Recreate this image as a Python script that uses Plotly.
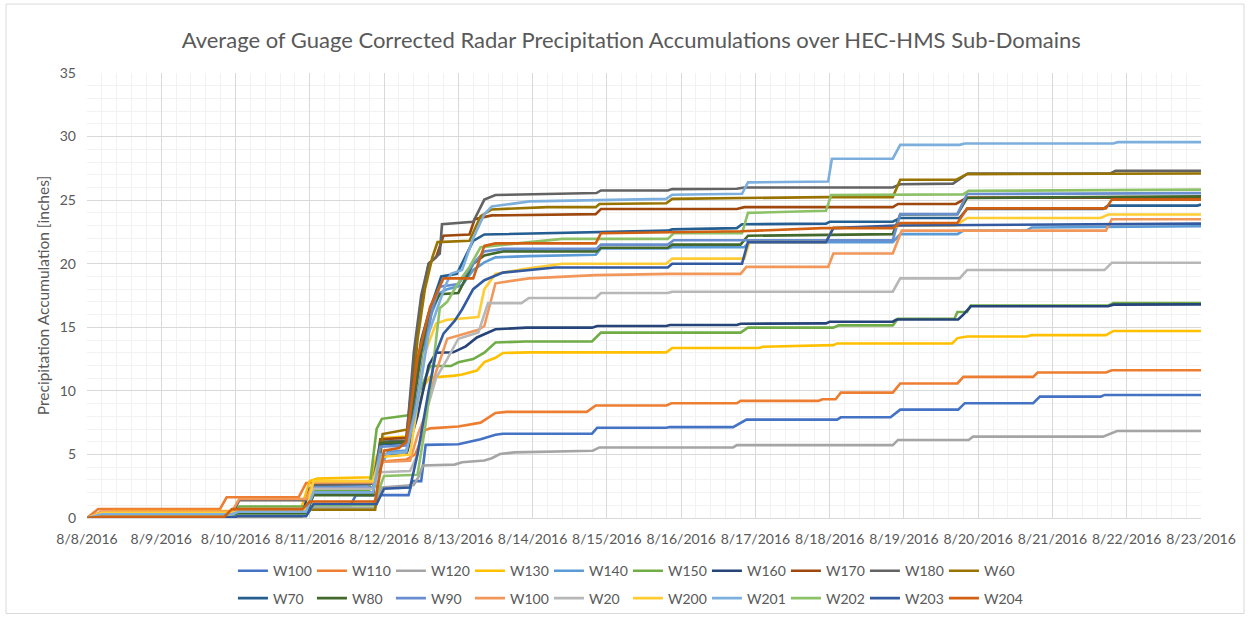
import pandas as pd
import plotly.graph_objects as go

TITLE = "Average of Guage Corrected Radar Precipitation Accumulations over HEC-HMS Sub-Domains"
Y_TITLE = "Precipitation Accumulation [inches]"
START = "2016-08-08"
END = "2016-08-23"
FONT = "Lato"
TEXT_COLOR = "#595959"

series_names = ["W100", "W110", "W120", "W130", "W140", "W150", "W160", "W170", "W180", "W60",
                "W70", "W80", "W90", "W100", "W20", "W200", "W201", "W202", "W203", "W204"]
series_colors = ["#4472C4", "#ED7D31", "#A5A5A5", "#FFC000", "#5B9BD5", "#70AD47", "#264478",
                 "#9E480E", "#636363", "#997300", "#255E91", "#43682B", "#698ED0", "#F1975A",
                 "#B7B7B7", "#FFCD33", "#7CAFDD", "#8CC168", "#335AA1", "#D26012"]

# Breakpoints of each accumulation curve: time in days after 8/8/2016 00:00, depth in inches
w100_t = [0, 0.1, 0.2, 1.95, 2.05, 2.95, 3.05, 3.55, 3.62, 4.33, 4.38, 4.5, 4.56, 5.0, 5.3, 5.5, 5.6,
          6.8, 6.87, 7.8, 7.85, 8.7, 8.88, 10.1, 10.15, 10.82, 10.95, 11.73, 11.82, 12.74, 12.83,
          13.65, 13.7, 15.0]
w100_v = [0, 0.05, 0.1, 0.1, 0.2, 0.2, 1.0, 1.0, 1.8, 1.8, 2.9, 2.9, 5.75, 5.8, 6.2, 6.55, 6.63,
          6.63, 7.1, 7.1, 7.15, 7.15, 7.74, 7.74, 7.92, 7.92, 8.52, 8.52, 9.03, 9.03, 9.55,
          9.55, 9.68, 9.68]

w110_t = [0, 0.08, 0.15, 1.79, 1.88, 2.85, 2.95, 3.8, 3.9, 4.3, 4.42, 4.55, 4.62, 5.0, 5.3, 5.5,
          5.65, 6.73, 6.85, 7.8, 7.87, 8.75, 8.8, 9.85, 9.9, 10.08, 10.15, 10.85, 10.95, 11.72,
          11.8, 12.74, 12.8, 13.72, 13.8, 15.0]
w110_v = [0, 0.4, 0.7, 0.7, 1.63, 1.63, 2.75, 2.8, 4.4, 4.6, 5.0, 6.9, 7.05, 7.2, 7.5, 8.26,
          8.35, 8.35, 8.85, 8.85, 9.02, 9.02, 9.21, 9.21, 9.34, 9.34, 9.86, 9.86, 10.58, 10.58,
          11.1, 11.1, 11.44, 11.44, 11.62, 11.62]

w120_t = [0, 0.15, 0.25, 1.95, 2.05, 2.92, 3.02, 3.88, 3.97, 4.4, 4.47, 4.52, 4.95, 5.05, 5.35,
          5.45, 5.56, 5.75, 6.46, 6.81, 6.9, 8.7, 8.75, 10.85, 10.92, 11.87, 11.93, 13.68, 13.87,
          15.0]
w120_v = [0, 0.05, 0.1, 0.1, 0.25, 0.25, 0.8, 0.8, 2.4, 2.6, 3.3, 4.13, 4.2, 4.39, 4.52,
          4.7, 5.03, 5.16, 5.22, 5.29, 5.55, 5.55, 5.73, 5.73, 6.14, 6.14, 6.4, 6.4, 6.84,
          6.84]

w130_t = [0, 0.25, 0.35, 2.0, 2.08, 2.88, 3.0, 3.1, 3.82, 3.9, 4.0, 4.3, 4.45, 4.55, 4.62, 4.75,
          4.95, 5.05, 5.25, 5.35, 5.5, 5.6, 5.95, 7.8, 7.88, 9.05, 9.1, 9.96, 10.05, 10.1, 11.65,
          11.72, 11.85, 12.65, 12.72, 13.72, 13.82, 15.0]
w130_v = [0, 0.3, 0.55, 0.55, 0.7, 0.7, 2.9, 3.1, 3.2, 4.8, 6.3, 6.4, 8.5, 10.5, 11.1, 11.1,
          11.2, 11.28, 11.6, 12.26, 12.6, 12.98, 13.03, 13.03, 13.37, 13.37, 13.47, 13.55, 13.6,
          13.73, 13.73, 14.15, 14.28, 14.28, 14.38, 14.38, 14.71, 14.71]

w140_t = [0, 0.1, 0.2, 1.95, 2.05, 2.95, 3.05, 3.8, 3.9, 4.05, 4.3, 4.45, 4.6, 4.75, 4.85, 5.05,
          5.2, 5.35, 5.5, 5.95, 6.85, 6.92, 7.82, 7.88, 8.85, 8.92, 10.85, 10.95, 11.72, 11.8,
          12.65, 12.72, 15.0]
w140_v = [0, 0.15, 0.3, 0.3, 0.5, 0.5, 2.5, 2.6, 3.4, 5.2, 5.3, 9.5, 15.5, 17.7, 18.0, 18.3,
          19.5, 20.1, 20.5, 20.6, 20.7, 21.2, 21.2, 21.3, 21.3, 21.7, 21.7, 22.33, 22.33, 22.6,
          22.6, 22.85, 22.95]

w150_t = [0, 0.12, 0.22, 1.95, 2.05, 2.95, 3.05, 3.8, 3.9, 3.97, 4.35, 4.45, 4.55, 4.62, 4.9,
          5.0, 5.2, 5.35, 5.5, 5.9, 6.8, 6.92, 8.8, 8.9, 10.05, 10.12, 10.85, 10.92, 11.68,
          11.72, 11.85, 11.9, 13.75, 13.82, 15.0]
w150_v = [0, 0.1, 0.2, 0.2, 0.9, 0.9, 2.2, 2.2, 7.0, 7.8, 8.1, 9.5, 11.0, 11.95, 11.95,
          12.25, 12.5, 13.0, 13.8, 13.88, 13.88, 14.58, 14.58, 14.97, 14.97, 15.15, 15.15, 15.67,
          15.67, 16.2, 16.2, 16.7, 16.7, 16.9, 16.9]

w160_t = [0, 0.1, 0.2, 1.95, 2.05, 2.9, 3.0, 3.85, 3.95, 4.3, 4.45, 4.6, 4.7, 4.93, 5.1, 5.25,
          5.5, 5.92, 6.8, 6.87, 7.8, 7.85, 8.75, 8.8, 9.95, 10.0, 10.85, 10.9, 11.73, 11.8, 11.9,
          13.75, 13.82, 15.0]
w160_v = [0, 0.05, 0.1, 0.1, 0.3, 0.3, 2.3, 2.3, 4.9, 5.0, 8.0, 12.0, 13.0, 13.03, 13.5, 14.2,
          14.84, 14.97, 14.97, 15.1, 15.1, 15.18, 15.18, 15.28, 15.31, 15.44, 15.44, 15.61, 15.61,
          16.0, 16.65, 16.65, 16.78, 16.8]

w170_t = [0, 0.1, 0.2, 1.95, 2.05, 2.95, 3.05, 3.85, 3.95, 4.3, 4.4, 4.5, 4.6, 4.7, 4.8, 5.15,
          5.22, 5.45, 6.85, 6.92, 8.75, 8.85, 10.85, 10.92, 11.7, 11.85, 15.0]
w170_v = [0, 0.08, 0.15, 0.15, 0.3, 0.3, 1.9, 1.9, 6.2, 6.3, 12.0, 17.0, 20.0, 20.5, 22.2,
          22.3, 23.5, 23.8, 23.9, 24.3, 24.3, 24.45, 24.45, 24.7, 24.7, 25.2, 25.2]

w180_t = [0, 0.1, 0.2, 1.95, 2.05, 2.95, 3.05, 3.85, 3.95, 4.3, 4.4, 4.5, 4.6, 4.75, 4.78, 5.2,
          5.35, 5.5, 6.86, 6.92, 7.82, 7.88, 8.75, 8.85, 10.85, 10.95, 11.66, 11.86, 13.78,
          13.85, 15.0]
w180_v = [0, 0.1, 0.2, 0.2, 1.4, 1.4, 2.6, 2.7, 6.0, 6.1, 13.0, 17.5, 20.0, 20.8, 23.1, 23.3,
          25.04, 25.4, 25.56, 25.76, 25.76, 25.87, 25.9, 26.0, 26.0, 26.25, 26.3, 27.1, 27.1,
          27.3, 27.3]

w60_t = [0, 0.12, 0.25, 2.9, 3.0, 3.88, 3.98, 4.35, 4.45, 4.55, 4.65, 4.72, 5.15, 5.3, 5.45,
         6.2, 6.85, 6.9, 7.8, 7.88, 9.95, 10.85, 10.95, 11.7, 11.85, 15.0]
w60_v = [0, 0.05, 0.15, 0.15, 0.65, 0.65, 6.6, 7.0, 14.0, 18.0, 20.5, 21.7, 21.8, 23.75,
         24.27, 24.45, 24.45, 24.7, 24.75, 25.1, 25.24, 25.24, 26.6, 26.6, 27.05, 27.1]

w70_t = [0, 0.1, 0.2, 1.95, 2.05, 2.95, 3.05, 3.85, 3.95, 4.3, 4.4, 4.5, 4.6, 4.77, 4.98, 5.2,
         5.35, 6.44, 7.82, 7.88, 8.75, 8.82, 9.95, 10.0, 10.85, 10.95, 11.75, 11.85, 13.68,
         13.75, 14.95, 15.0]
w70_v = [0, 0.1, 0.2, 0.2, 0.4, 0.4, 2.0, 2.0, 5.8, 5.9, 10.0, 14.0, 16.1, 19.0, 19.2, 21.8,
         22.3, 22.45, 22.6, 22.7, 22.8, 23.1, 23.15, 23.3, 23.3, 23.6, 23.6, 24.3, 24.3, 24.57,
         24.57, 24.65]

w80_t = [0, 0.1, 0.2, 1.95, 2.05, 2.95, 3.05, 3.85, 3.95, 4.3, 4.4, 4.5, 4.6, 4.75, 5.0, 5.2,
         5.35, 5.6, 6.86, 6.92, 7.82, 7.88, 8.8, 8.9, 10.85, 10.95, 11.72, 11.85, 15.0]
w80_v = [0, 0.05, 0.1, 0.1, 0.3, 0.3, 1.8, 1.8, 5.9, 6.0, 9.0, 13.0, 16.0, 17.6, 17.7, 20.0,
         20.65, 20.97, 20.97, 21.25, 21.25, 21.5, 21.5, 22.2, 22.33, 23.88, 23.9, 25.17, 25.3]

w90_t = [0, 0.1, 0.2, 1.95, 2.05, 2.95, 3.05, 3.85, 3.95, 4.3, 4.4, 4.55, 4.65, 4.75, 5.0, 5.2,
         5.35, 5.6, 6.86, 6.92, 7.82, 7.9, 10.85, 10.95, 11.72, 11.85, 15.0]
w90_v = [0, 0.15, 0.3, 0.3, 0.6, 0.6, 2.4, 2.4, 5.6, 5.7, 8.0, 13.0, 16.5, 18.2, 18.4, 20.0,
         20.97, 21.17, 21.17, 21.5, 21.5, 21.85, 21.85, 23.9, 23.9, 25.48, 25.55]

w100b_t = [0, 0.1, 0.2, 1.95, 2.05, 2.95, 3.05, 3.85, 3.95, 4.35, 4.45, 4.55, 4.7, 4.85, 5.27,
           5.35, 5.5, 5.95, 6.85, 7.85, 8.8, 8.88, 9.98, 10.05, 10.85, 10.97, 13.72, 13.8, 15.0]
w100b_v = [0, 0.25, 0.5, 0.5, 1.5, 1.5, 2.8, 2.8, 4.4, 4.5, 6.5, 8.0, 11.5, 14.1, 14.8, 15.1,
           18.46, 18.85, 19.1, 19.2, 19.2, 19.75, 19.75, 20.8, 20.8, 22.6, 22.6, 23.5, 23.5]

w20_t = [0, 0.1, 0.2, 1.95, 2.05, 2.95, 3.05, 3.85, 3.95, 4.35, 4.45, 4.55, 4.7, 4.85, 5.0,
         5.27, 5.4, 5.85, 5.95, 6.85, 6.92, 7.82, 7.88, 10.85, 10.95, 11.75, 11.85, 13.7, 13.8,
         15.0]
w20_v = [0, 0.1, 0.2, 0.2, 0.7, 0.7, 2.3, 2.3, 3.6, 3.7, 5.0, 8.0, 11.0, 12.5, 14.1, 14.6,
         16.9, 16.9, 17.3, 17.3, 17.7, 17.7, 17.8, 17.8, 18.85, 18.85, 19.5, 19.5, 20.08, 20.08]

w200_t = [0, 0.1, 0.2, 1.95, 2.05, 2.95, 3.05, 3.85, 3.95, 4.35, 4.45, 4.55, 4.7, 4.85, 5.27,
          5.35, 5.5, 5.9, 6.4, 7.8, 7.88, 8.85, 8.92, 9.95, 10.05, 10.85, 10.95, 11.7, 11.85,
          13.65, 13.75, 15.0]
w200_v = [0, 0.2, 0.4, 0.4, 0.6, 0.6, 2.9, 2.9, 4.8, 5.0, 9.0, 13.0, 15.3, 15.6, 15.8, 18.0,
          19.2, 19.6, 20.0, 20.0, 20.4, 20.4, 21.7, 21.7, 22.85, 22.85, 23.0, 23.0, 23.6, 23.6,
          23.87, 23.87]

w201_t = [0, 0.1, 0.2, 1.95, 2.05, 2.95, 3.05, 3.85, 3.95, 4.3, 4.45, 4.6, 4.82, 4.9, 5.05,
          5.2, 5.35, 5.45, 5.96, 7.8, 7.88, 8.82, 8.9, 9.98, 10.03, 10.85, 10.95, 11.75, 11.82,
          13.82, 13.88, 15.0]
w201_v = [0, 0.15, 0.3, 0.3, 0.5, 0.5, 2.0, 2.0, 5.0, 5.2, 9.0, 14.5, 18.2, 19.2, 19.5, 22.0,
          23.9, 24.5, 24.9, 25.1, 25.43, 25.5, 26.4, 26.46, 28.26, 28.26, 29.35, 29.35, 29.45,
          29.45, 29.56, 29.56]

w202_t = [0, 0.1, 0.2, 1.95, 2.05, 2.95, 3.05, 3.85, 3.95, 4.0, 4.45, 4.55, 4.65, 4.75, 4.85,
          5.0, 5.15, 5.3, 5.96, 6.4, 7.82, 7.9, 8.82, 8.9, 9.95, 10.02, 11.8, 11.87, 15.0]
w202_v = [0, 0.05, 0.1, 0.1, 0.2, 0.2, 1.0, 1.0, 2.5, 3.3, 3.4, 7.0, 11.5, 16.5, 17.0, 18.5,
          19.75, 21.3, 21.7, 21.95, 21.95, 22.4, 22.4, 24.0, 24.16, 25.4, 25.45, 25.73, 25.83]

w203_t = [0, 0.12, 0.25, 1.95, 2.05, 2.95, 3.05, 3.9, 4.0, 4.35, 4.45, 4.6, 4.7, 4.8, 4.95,
          5.05, 5.2, 5.35, 5.6, 6.3, 7.82, 7.88, 8.82, 8.9, 9.95, 10.05, 10.9, 15.0]
w203_v = [0, 0.03, 0.05, 0.05, 0.15, 0.15, 1.1, 1.1, 2.3, 2.4, 5.0, 10.0, 13.0, 14.5, 15.5,
          16.4, 18.0, 18.7, 19.3, 19.7, 19.7, 20.0, 20.0, 21.7, 21.7, 22.8, 23.0, 23.15]

w204_t = [0, 0.1, 0.2, 1.85, 1.95, 2.9, 3.0, 3.88, 4.0, 4.2, 4.3, 4.45, 4.62, 4.8, 5.2, 5.35,
          5.5, 6.85, 6.92, 8.8, 9.9, 10.85, 10.95, 11.72, 11.85, 13.72, 13.8, 15.0]
w204_v = [0, 0.05, 0.1, 0.1, 0.7, 0.7, 1.3, 1.3, 5.3, 5.5, 6.0, 12.5, 16.6, 18.85, 18.85,
          21.4, 21.6, 21.6, 22.4, 22.55, 22.8, 22.8, 23.2, 23.2, 24.35, 24.35, 25.04, 25.04]

series_t = [w100_t, w110_t, w120_t, w130_t, w140_t, w150_t, w160_t, w170_t, w180_t, w60_t,
            w70_t, w80_t, w90_t, w100b_t, w20_t, w200_t, w201_t, w202_t, w203_t, w204_t]
series_v = [w100_v, w110_v, w120_v, w130_v, w140_v, w150_v, w160_v, w170_v, w180_v, w60_v,
            w70_v, w80_v, w90_v, w100b_v, w20_v, w200_v, w201_v, w202_v, w203_v, w204_v]

base = pd.Timestamp(START)
fig = go.Figure()
for i, (name, color, t, v) in enumerate(zip(series_names, series_colors, series_t, series_v)):
    fig.add_trace(go.Scatter(
        x=base + pd.to_timedelta(t, unit="D"),
        y=v,
        mode="lines",
        name=name,
        line=dict(color=color, width=2.6),
        legend="legend" if i < 10 else "legend2",
    ))

DAY_MS = 86400000
legend_style = dict(
    orientation="h", xanchor="left", yanchor="middle", x=0.131,
    entrywidth=34, itemwidth=30, tracegroupgap=0,
    bgcolor="rgba(0,0,0,0)",
    font=dict(family=FONT, size=14, color=TEXT_COLOR),
)

fig.update_layout(
    width=1250, height=627,
    margin=dict(l=87, r=49, t=73, b=102),
    paper_bgcolor="white", plot_bgcolor="white",
    font=dict(family=FONT, color=TEXT_COLOR),
    title=dict(text=TITLE, x=0.505, xref="container", xanchor="center",
               y=1 - 40 / 627, yref="container", yanchor="middle",
               font=dict(family=FONT, size=22, color=TEXT_COLOR)),
    showlegend=True,
    legend=dict(legend_style, y=-0.1195),
    legend2=dict(legend_style, y=-0.181),
    xaxis=dict(
        type="date", range=[START, END],
        tick0=START, dtick=DAY_MS, tickformat="%-m/%-d/%Y",
        showgrid=True, gridcolor="#D9D9D9", gridwidth=1,
        minor=dict(dtick=DAY_MS / 5, showgrid=True, gridcolor="#F2F2F2", gridwidth=1),
        showline=True, linecolor="#D9D9D9", linewidth=1,
        ticks="", ticklabelstandoff=8,
        tickfont=dict(family=FONT, size=14, color=TEXT_COLOR),
        zeroline=False,
    ),
    yaxis=dict(
        range=[0, 35], dtick=5, tick0=0,
        showgrid=True, gridcolor="#D9D9D9", gridwidth=1,
        minor=dict(dtick=1, showgrid=True, gridcolor="#F2F2F2", gridwidth=1),
        showline=False, zeroline=False,
        ticks="", ticklabelstandoff=10,
        tickfont=dict(family=FONT, size=14, color=TEXT_COLOR),
        title=dict(text=Y_TITLE, standoff=6, font=dict(family=FONT, size=15.5, color=TEXT_COLOR)),
    ),
    shapes=[dict(type="rect", xref="paper", yref="paper",
                 x0=(6 - 87) / 1114, x1=(1244 - 87) / 1114,
                 y0=(525 - 622) / 452, y1=(525 - 3) / 452,
                 line=dict(color="#D9D9D9", width=1), fillcolor="rgba(0,0,0,0)", layer="below")],
)

fig.write_html("out.html")
